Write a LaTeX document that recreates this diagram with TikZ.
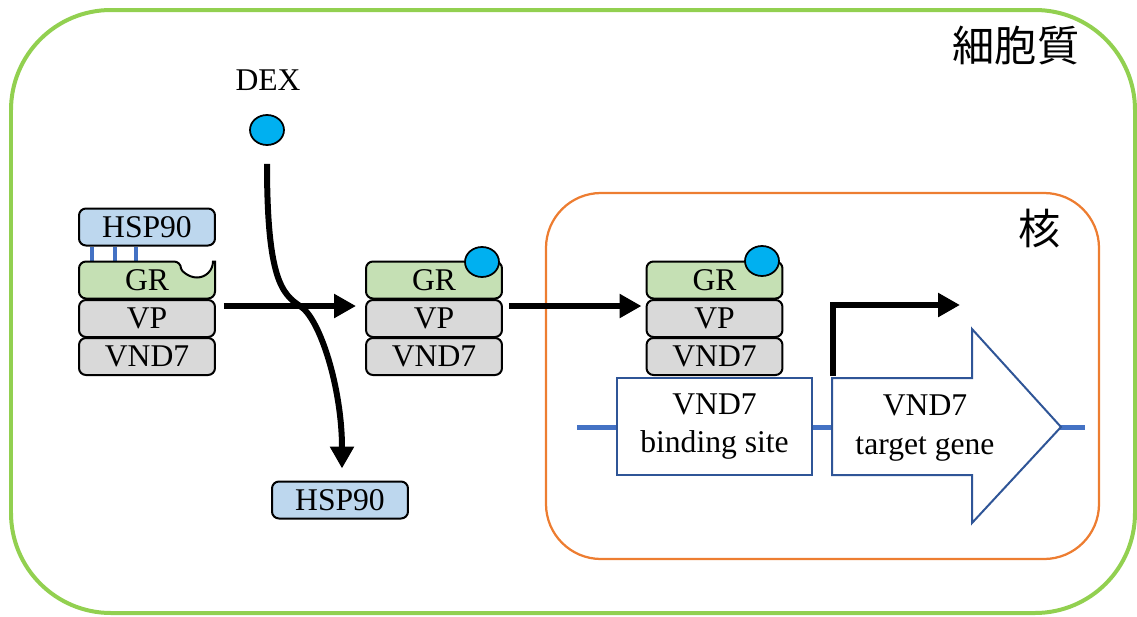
\documentclass[tikz,border=0pt]{standalone}
\usepackage{fontspec}
\setmainfont{Liberation Serif}
\newfontfamily\cjk{Noto Sans CJK JP}
\usetikzlibrary{arrows.meta,calc,positioning,shapes.geometric}
\definecolor{cellwall}{RGB}{146,208,80}
\definecolor{nucwall}{RGB}{237,125,49}
\definecolor{dexcyan}{RGB}{0,176,240}
\definecolor{softH}{RGB}{189,215,238}
\definecolor{softG}{RGB}{197,224,180}
\definecolor{softV}{RGB}{217,217,217}
\definecolor{dnablue}{RGB}{68,114,196}
\definecolor{boxblue}{RGB}{47,85,151}
\newcommand{\mainsz}{\fontsize{18}{22}\selectfont}
\newcommand{\bigsz}{\fontsize{24}{28}\selectfont}
\tikzset{
  part/.style={draw,line width=0.04cm,rounded corners=0.14cm,minimum width=2.72cm,minimum height=0.74cm,inner sep=0pt,font=\mainsz},
  hcell/.style={part,fill=softH},
  gcell/.style={part,fill=softG},
  vcell/.style={part,fill=softV},
  ligand/.style={ellipse,draw,line width=0.035cm,fill=dexcyan,minimum width=0.68cm,minimum height=0.6cm,inner sep=0pt},
  dnabox/.style={draw=boxblue,fill=white,line width=0.04cm},
  flow/.style={line width=0.12cm,-{Triangle[length=0.44cm,width=0.46cm]}},
}

\begin{document}
\begin{tikzpicture}[x=0.02cm,y=-0.02cm,font=\mainsz]
  \useasboundingbox (0,0) rectangle (1137,616);
  % cell and nucleus
  \draw[cellwall,line width=0.08cm,rounded corners=2cm] (11,10) rectangle (1135,613);
  \draw[nucwall,line width=0.045cm,rounded corners=1.1cm] (546,193) rectangle (1099,559);
  \node[font=\cjk\bigsz] (cyto) at (1016,46) {細胞質};
  \node[font=\cjk\bigsz] (nuc) at (1040,229) {核};
  % DNA
  \coordinate (dnaL) at (577,427);
  \coordinate (dnaR) at (1085,427);
  \draw[dnablue,line width=0.1cm] (dnaL) -- (dnaR);
  \node[dnabox,minimum width=3.9cm,minimum height=1.94cm,align=center] (bind) at (714.5,426.5) {VND7\\binding site};
  \filldraw[dnabox] (832,378) -- (972,378) -- (972,329) -- (1061,427) -- (972,523) -- (972,475) -- (832,475) -- cycle;
  \node[align=center] (gene) at (925,428) {VND7\\target gene};
  \coordinate (tss) at (833,376);
  \coordinate (tx) at (960,305);
  \draw[flow] (tss) |- (tx);
  % HSP90-bound fusion in the cytoplasm
  \node[hcell] (hsp1) at (147,227) {HSP90};
  \foreach \dx in {14,37,58}
     \draw[dnablue,line width=0.08cm] ($(hsp1.south west)+(\dx,0)$) -- ++(0,16);
  \filldraw[fill=softG,line width=0.04cm] (147,298.5) [rounded corners=0.14cm] -- (79,298.5) -- (79,261.5)
     -- (181,261.5) [sharp corners] arc[start angle=180,end angle=360,radius=0.32cm] -- (215,261.5)
     -- (215,285) [rounded corners=0.14cm] -- (215,298.5) -- cycle;
  \node[part,draw=none,fill=none] (gr1) at (147,280) {GR};
  \node[vcell] (vp1) at (147,318.5) {VP};
  \node[vcell] (vnd1) at (147,356.5) {VND7};
  % DEX-bound fusion
  \node[gcell] (gr2) at (434,280) {GR};
  \node[vcell] (vp2) at (434,318.5) {VP};
  \node[vcell] (vnd2) at (434,356.5) {VND7};
  \node[ligand] (lig2) at (482,262) {};
  % fusion in the nucleus
  \node[gcell] (gr3) at (714.5,280) {GR};
  \node[vcell] (vp3) at (714.5,318.5) {VP};
  \node[vcell] (vnd3) at (714.5,356.5) {VND7};
  \node[ligand] (lig3) at (762,261) {};
  % DEX and released HSP90
  \node (dextxt) at (268,80) {DEX};
  \node[ligand] (dex) at (267,130) {};
  \node[hcell] (hsp2) at (340,500) {HSP90};
  \coordinate (cross) at (300,306);
  \draw[line width=0.12cm] ($(dex.south)+(0,18)$) .. controls +(0,115) and +(-18,-12) .. (cross);
  \draw[flow] (cross) .. controls +(20,12) and +(0,-80) .. ($(hsp2.north)+(2,-12)$);
  \draw[flow] ($(vp1.north east)+(8,7)$) -- ($(vp2.north west)+(-9,7)$);
  \draw[flow] ($(vp2.north east)+(6,7)$) -- ($(vp3.north west)+(-4,7)$);
\end{tikzpicture}
\end{document}
